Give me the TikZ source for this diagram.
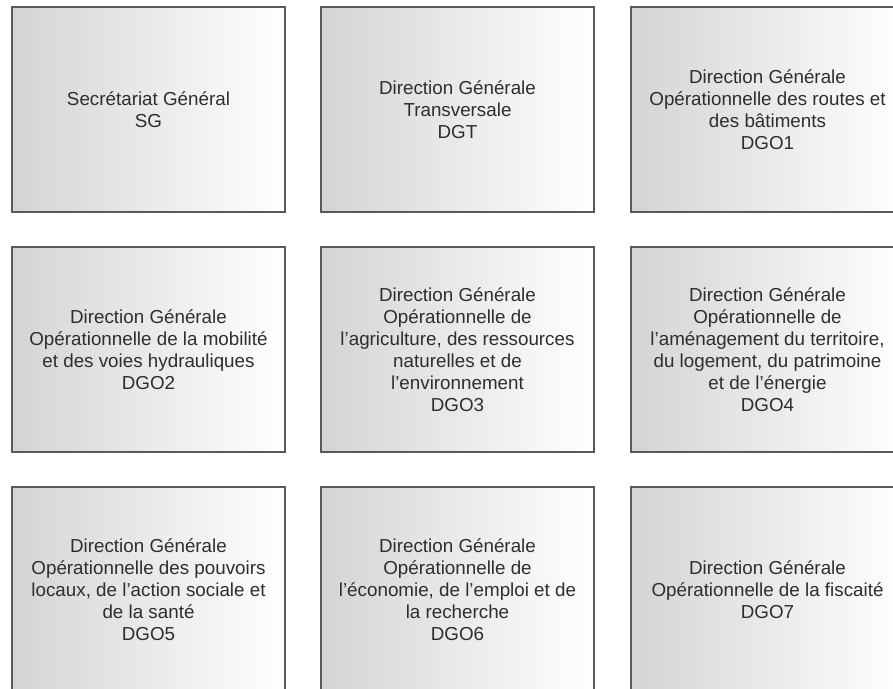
\documentclass[tikz,border=0pt]{standalone}
\usepackage{fontspec}
\setmainfont{Liberation Sans}
\definecolor{frame}{HTML}{5A5A5A}
\definecolor{ink}{HTML}{2E2E2E}
\definecolor{shadeleft}{HTML}{D4D4D4}
\begin{document}
\begin{tikzpicture}[x=1pt,y=-1pt,
  dirbox/.style={rectangle, draw=frame, line width=2pt,
    left color=shadeleft, right color=white,
    minimum width=273pt, minimum height=205pt,
    align=center, text=ink, inner sep=0pt,
    font=\fontsize{18.8}{22}\selectfont}]
\useasboundingbox (0,0) rectangle (893,688);
% row 1
\node[dirbox] (sg)   at (148.5,109.5) {Secrétariat Général\\SG};
\node[dirbox] (dgt)  at (457.5,109.5) {Direction Générale\\Transversale\\DGT};
\node[dirbox] (dgo1) at (767.5,109.5) {Direction Générale\\Opérationnelle des routes et\\des bâtiments\\DGO1};
% row 2
\node[dirbox] (dgo2) at (148.5,349.5) {Direction Générale\\Opérationnelle de la mobilité\\et des voies hydrauliques\\DGO2};
\node[dirbox] (dgo3) at (457.5,349.5) {Direction Générale\\Opérationnelle de\\l'agriculture, des ressources\\naturelles et de\\l'environnement\\DGO3};
\node[dirbox] (dgo4) at (767.5,349.5) {Direction Générale\\Opérationnelle de\\l'aménagement du territoire,\\du logement, du patrimoine\\et de l'énergie\\DGO4};
% row 3
\node[dirbox] (dgo5) at (148.5,589.5) {Direction Générale\\Opérationnelle des pouvoirs\\locaux, de l'action sociale et\\de la santé\\DGO5};
\node[dirbox] (dgo6) at (457.5,589.5) {Direction Générale\\Opérationnelle de\\l'économie, de l'emploi et de\\la recherche\\DGO6};
\node[dirbox] (dgo7) at (767.5,589.5) {Direction Générale\\Opérationnelle de la fiscaité\\DGO7};
\end{tikzpicture}
\end{document}
